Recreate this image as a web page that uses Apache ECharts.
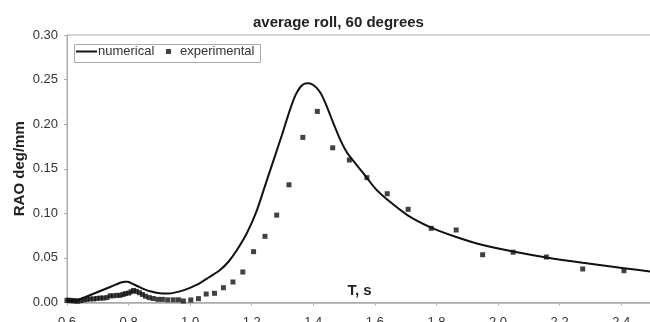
<!DOCTYPE html>
<html><head><meta charset="utf-8">
<script src="https://cdn.jsdelivr.net/npm/echarts@6/dist/echarts.min.js"></script>
<style>html,body{margin:0;padding:0;background:#fff}#c{width:650px;height:322px}</style>
</head><body><div id="c"></div>
<script>
const titleText = 'average roll, 60 degrees';
const xName = 'T, s';
const yName = 'RAO deg/mm';
const seriesNames = ['numerical', 'experimental'];

const numT = [0.60,0.62,0.64,0.66,0.68,0.70,0.72,0.74,0.76,0.775,0.787,0.797,0.81,0.83,0.85,0.87,0.89,0.91,0.93,0.946,0.967,0.989,1.01,1.032,1.06,1.097,1.125,1.152,1.184,1.217,1.249,1.281,1.30,1.315,1.33,1.345,1.36,1.372,1.383,1.395,1.41,1.425,1.44,1.455,1.47,1.487,1.503,1.519,1.563,1.601,1.64,1.708,1.783,1.864,1.95,2.049,2.157,2.275,2.409,2.5];
const numV = [0.0017,0.0018,0.0035,0.0062,0.0090,0.0118,0.0146,0.0174,0.0203,0.0224,0.0234,0.0232,0.0215,0.0182,0.0150,0.0126,0.0110,0.0102,0.0102,0.0108,0.0125,0.0150,0.0180,0.0218,0.0280,0.0364,0.0460,0.0589,0.0776,0.1037,0.1370,0.1700,0.1900,0.2065,0.2220,0.2345,0.2425,0.2455,0.2460,0.2450,0.2410,0.2340,0.2230,0.2100,0.1970,0.1830,0.1720,0.1635,0.1448,0.1280,0.1155,0.0975,0.0840,0.0735,0.0645,0.0572,0.0505,0.0445,0.0385,0.0345];

const expT = [0.600,0.606,0.613,0.620,0.627,0.635,0.645,0.655,0.665,0.675,0.686,0.697,0.708,0.718,0.730,0.740,0.750,0.762,0.772,0.782,0.790,0.800,0.808,0.816,0.825,0.835,0.845,0.855,0.867,0.880,0.895,0.910,0.927,0.945,0.962,0.978,1.002,1.027,1.052,1.079,1.108,1.139,1.171,1.206,1.243,1.281,1.321,1.366,1.413,1.463,1.517,1.574,1.640,1.708,1.783,1.864,1.950,2.049,2.157,2.275,2.409];
const expV = [0.0025,0.0025,0.0022,0.0020,0.0018,0.0015,0.0022,0.0030,0.0035,0.0040,0.0040,0.0045,0.0050,0.0050,0.0055,0.0075,0.0075,0.0080,0.0080,0.0090,0.0100,0.0105,0.0120,0.0135,0.0125,0.0110,0.0090,0.0070,0.0055,0.0045,0.0035,0.0035,0.0030,0.0030,0.0030,0.0017,0.0028,0.0043,0.0095,0.0103,0.0166,0.0230,0.0342,0.0570,0.0742,0.0980,0.1320,0.1852,0.2143,0.1735,0.1598,0.1400,0.1220,0.1045,0.0832,0.0813,0.0536,0.0564,0.0510,0.0376,0.0357];

const yTicks = [0, 0.05, 0.10, 0.15, 0.20, 0.25, 0.30];
const xTicks = [0.6, 0.8, 1.0, 1.2, 1.4, 1.6, 1.8, 2.0, 2.2, 2.4];

const font = '"Liberation Sans", Arial, sans-serif';
const chart = echarts.init(document.getElementById('c'), null, {renderer: 'canvas'});
chart.setOption({
  animation: false,
  backgroundColor: '#fff',
  title: {
    text: titleText, left: 248, top: 10,
    textStyle: {fontFamily: font, fontSize: 15, fontWeight: 'bold', color: '#222'}
  },
  grid: {left: 67, right: -2, top: 35, bottom: 19.5, show: true, borderColor: '#aaa', borderWidth: 1,
         containLabel: false, outerBoundsMode: 'none'},
  legend: [
    {data: [{name: seriesNames[0], icon: 'rect'}], left: 76, top: 45, itemWidth: 21, itemHeight: 2,
     padding: 0, textStyle: {fontFamily: font, fontSize: 13, color: '#333', padding: [0,0,0,-4]}},
    {data: [{name: seriesNames[1], icon: 'rect'}], left: 166, top: 45, itemWidth: 5, itemHeight: 5,
     padding: 0, textStyle: {fontFamily: font, fontSize: 13, color: '#333', padding: [0,0,0,4]}}
  ],
  graphic: [{type: 'rect', left: 72, top: 42, shape: {width: 186, height: 18}, style: {fill: 'none', stroke: '#aaa', lineWidth: 1}, z: 10}],
  xAxis: {
    type: 'value', min: 0.6, max: 2.5, interval: 0.2,
    name: xName, nameLocation: 'middle', nameGap: -19, nameMoveOverlap: false,
    nameTextStyle: {fontFamily: font, fontSize: 15, fontWeight: 'bold', color: '#222'},
    axisLine: {show: true, lineStyle: {color: '#aaa', width: 1.5}},
    axisTick: {show: true, length: 3, lineStyle: {color: '#aaa'}},
    axisLabel: {margin: 13, fontFamily: font, fontSize: 13, color: '#333',
      formatter: v => xTicks.some(t => Math.abs(t - v) < 1e-6) ? v.toFixed(1) : ''},
    splitLine: {show: false}
  },
  yAxis: {
    type: 'value', min: 0, max: 0.3, interval: 0.05,
    name: yName, nameLocation: 'middle', nameGap: 40, nameMoveOverlap: false,
    nameTextStyle: {fontFamily: font, fontSize: 15, fontWeight: 'bold', color: '#222'},
    axisLine: {show: true, lineStyle: {color: '#aaa', width: 1}},
    axisTick: {show: true, length: 3, lineStyle: {color: '#aaa'}},
    axisLabel: {margin: 9, fontFamily: font, fontSize: 13, color: '#333',
      formatter: v => yTicks.some(t => Math.abs(t - v) < 1e-6) ? v.toFixed(2) : ''},
    splitLine: {show: false}
  },
  series: [
    {name: seriesNames[0], type: 'line', data: numT.map((t, i) => [t, numV[i]]),
     smooth: 0.25, showSymbol: false, symbol: 'none', clip: true,
     lineStyle: {color: '#111', width: 2}, itemStyle: {color: '#111'}, z: 3},
    {name: seriesNames[1], type: 'scatter', data: expT.map((t, i) => [t, expV[i]]),
     symbol: 'rect', symbolSize: 5, itemStyle: {color: '#111'}, z: 4}
  ]
});
</script>
</body></html>
